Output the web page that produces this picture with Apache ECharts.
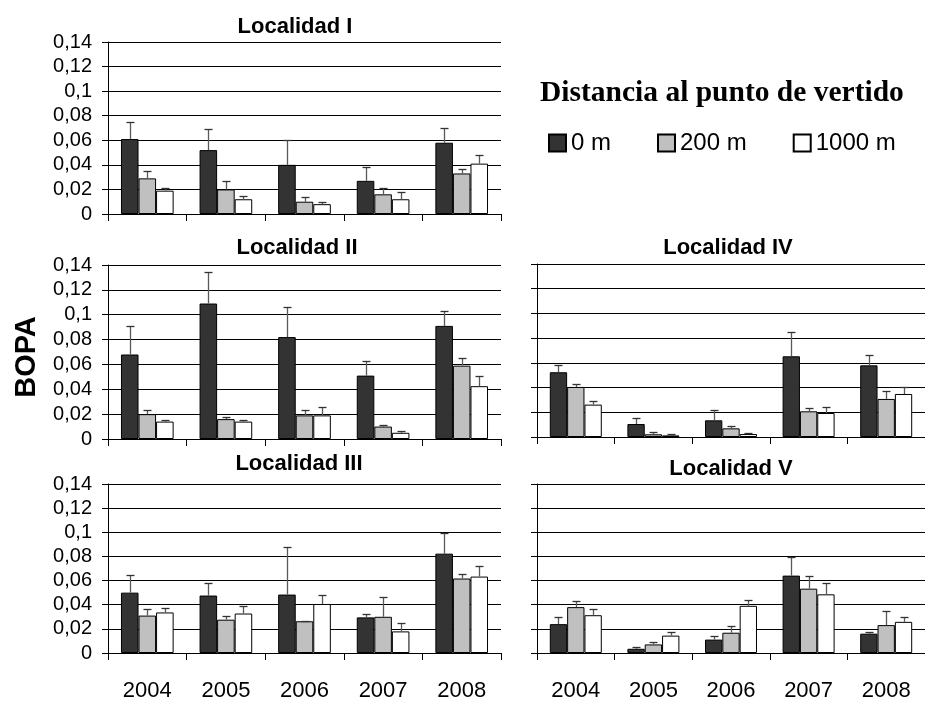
<!DOCTYPE html>
<html>
<head>
<meta charset="utf-8">
<script src="https://cdn.jsdelivr.net/npm/echarts@6/dist/echarts.min.js"></script>
<style>
  html, body { margin: 0; padding: 0; background: #fff; }
  #chart { width: 925px; height: 702px; }
</style>
</head>
<body>
<div id="chart"></div>
<script>
// Years on the category axis
const years = ['2004', '2005', '2006', '2007', '2008'];
const distances = ['0 m', '200 m', '1000 m'];
const panelTitles = ['Localidad I', 'Localidad II', 'Localidad III', 'Localidad IV', 'Localidad V'];

// Localidad I: means and standard errors (upper bar)
const locI_0m = [0.061, 0.052, 0.040, 0.027, 0.058];
const locI_200m = [0.029, 0.020, 0.010, 0.016, 0.033];
const locI_1000m = [0.019, 0.012, 0.008, 0.012, 0.041];
const locI_0m_err = [0.014, 0.017, 0.020, 0.011, 0.012];
const locI_200m_err = [0.006, 0.007, 0.0035, 0.005, 0.004];
const locI_1000m_err = [0.002, 0.003, 0.0015, 0.006, 0.007];

// Localidad II
const locII_0m = [0.068, 0.109, 0.082, 0.051, 0.091];
const locII_200m = [0.020, 0.016, 0.019, 0.010, 0.059];
const locII_1000m = [0.014, 0.014, 0.019, 0.005, 0.0425];
const locII_0m_err = [0.023, 0.025, 0.0245, 0.012, 0.012];
const locII_200m_err = [0.0035, 0.002, 0.004, 0.0016, 0.006];
const locII_1000m_err = [0.0013, 0.0013, 0.007, 0.0012, 0.008];

// Localidad III
const locIII_0m = [0.050, 0.0476, 0.0484, 0.0295, 0.0823];
const locIII_200m = [0.031, 0.0276, 0.0263, 0.030, 0.0617];
const locIII_1000m = [0.0336, 0.0327, 0.0406, 0.0179, 0.0633];
const locIII_0m_err = [0.0147, 0.0103, 0.0393, 0.0024, 0.0173];
const locIII_200m_err = [0.0053, 0.0033, 0.0005, 0.016, 0.0038];
const locIII_1000m_err = [0.0037, 0.0063, 0.0078, 0.0067, 0.0087];

// Localidad IV
const locIV_0m = [0.0524, 0.0105, 0.0135, 0.0653, 0.058];
const locIV_200m = [0.0405, 0.0022, 0.007, 0.0208, 0.0308];
const locIV_1000m = [0.0262, 0.0013, 0.0024, 0.0194, 0.0348];
const locIV_0m_err = [0.0059, 0.0046, 0.0081, 0.0197, 0.0081];
const locIV_200m_err = [0.0024, 0.0018, 0.0016, 0.003, 0.0062];
const locIV_1000m_err = [0.0029, 0.0009, 0.0008, 0.0052, 0.0057];

// Localidad V
const locV_0m = [0.0239, 0.0035, 0.0111, 0.0641, 0.016];
const locV_200m = [0.038, 0.0071, 0.0168, 0.0533, 0.0231];
const locV_1000m = [0.0313, 0.0144, 0.0391, 0.0486, 0.0258];
const locV_0m_err = [0.0063, 0.0017, 0.0033, 0.0158, 0.0017];
const locV_200m_err = [0.0049, 0.0019, 0.0055, 0.0108, 0.0114];
const locV_1000m_err = [0.0048, 0.0033, 0.0047, 0.0098, 0.0044];

const panelMeans = [
  [locI_0m, locI_200m, locI_1000m],
  [locII_0m, locII_200m, locII_1000m],
  [locIII_0m, locIII_200m, locIII_1000m],
  [locIV_0m, locIV_200m, locIV_1000m],
  [locV_0m, locV_200m, locV_1000m]
];
const panelErrs = [
  [locI_0m_err, locI_200m_err, locI_1000m_err],
  [locII_0m_err, locII_200m_err, locII_1000m_err],
  [locIII_0m_err, locIII_200m_err, locIII_1000m_err],
  [locIV_0m_err, locIV_200m_err, locIV_1000m_err],
  [locV_0m_err, locV_200m_err, locV_1000m_err]
];

const FONT = "'Liberation Sans', Arial, Helvetica, sans-serif";
const barColors = ['#333333', '#c0c0c0', '#ffffff'];
const CAT_GAP = 0.33;

// Plot rectangles (left, top, width, height) and which axes get labels
const grids = [
  { left: 108, top: 42, width: 393, height: 172, yLabels: true, xLabels: false },
  { left: 108, top: 265, width: 393, height: 174, yLabels: true, xLabels: false },
  { left: 108, top: 484, width: 393, height: 172, yLabels: true, xLabels: true },
  { left: 537, top: 264, width: 396, height: 173, yLabels: false, xLabels: false },
  { left: 537, top: 484, width: 396, height: 172, yLabels: false, xLabels: true }
];
const titlePos = [[295, 27], [297, 248], [299, 464], [728, 248], [731, 469]];

function errRenderer(pos) {
  return function (params, api) {
    const idx = api.value(0);
    const v = api.value(1);
    const up = api.value(2);
    const base = api.coord([idx, v]);
    const top = api.coord([idx, up]);
    const band = api.size([1, 0])[0];
    const barW = band * (1 - CAT_GAP) / 3;
    const cx = Math.round(base[0] + (pos - 1) * barW) + 0.5;
    const ty = Math.round(top[1]) + 0.5;
    return {
      type: 'group',
      children: [
        { type: 'line', shape: { x1: cx, y1: base[1], x2: cx, y2: ty },
          style: { stroke: '#5a5a5a', lineWidth: 1.3 } },
        { type: 'line', shape: { x1: cx - 4, y1: ty, x2: cx + 4, y2: ty },
          style: { stroke: '#333', lineWidth: 1.3 } }
      ]
    };
  };
}

const gridOpts = [], xAxes = [], yAxes = [], series = [], graphics = [];

grids.forEach((g, gi) => {
  gridOpts.push({ left: g.left, top: g.top, width: g.width, height: g.height, containLabel: false });
  xAxes.push({
    type: 'category', gridIndex: gi, data: years, boundaryGap: true,
    axisLine: { show: true, lineStyle: { color: '#000', width: 1 } },
    axisTick: { show: true, alignWithLabel: false, length: 7, lineStyle: { color: '#000' } },
    axisLabel: { show: g.xLabels, margin: 27, fontSize: 22, color: '#000', fontFamily: FONT },
    splitLine: { show: false }
  });
  yAxes.push({
    type: 'value', gridIndex: gi, min: 0, max: 0.14, interval: 0.02,
    axisLine: { show: true, lineStyle: { color: '#000', width: 1 } },
    axisTick: { show: true, length: 6, lineStyle: { color: '#000' } },
    axisLabel: {
      show: g.yLabels, margin: 16, fontSize: 20, color: '#000', fontFamily: FONT,
      formatter: v => String(+v.toFixed(2)).replace('.', ',')
    },
    splitLine: { show: true, lineStyle: { color: '#000', width: 1 } }
  });
  distances.forEach((name, si) => {
    series.push({
      type: 'bar', name: name, xAxisIndex: gi, yAxisIndex: gi,
      data: panelMeans[gi][si],
      barGap: '0%', barCategoryGap: (CAT_GAP * 100) + '%',
      itemStyle: { color: barColors[si], borderColor: '#000', borderWidth: 1 },
      emphasis: { disabled: true }
    });
  });
  distances.forEach((name, si) => {
    const m = panelMeans[gi][si], e = panelErrs[gi][si];
    series.push({
      type: 'custom', xAxisIndex: gi, yAxisIndex: gi, z: 5,
      renderItem: errRenderer(si),
      encode: { x: 0, y: [1, 2] },
      data: m.map((v, i) => [i, v, v + e[i]]),
      silent: true
    });
  });
  graphics.push({
    type: 'text', x: titlePos[gi][0], y: titlePos[gi][1],
    style: { text: panelTitles[gi], font: 'bold 22px ' + FONT, fill: '#000',
             textAlign: 'center', textVerticalAlign: 'middle' }
  });
});

// Shared y-axis name
graphics.push({
  type: 'text', x: 27, y: 357, rotation: Math.PI / 2,
  style: { text: 'BOPA', font: 'bold 29px ' + FONT, fill: '#000',
           textAlign: 'center', textVerticalAlign: 'middle' }
});
// Legend heading
graphics.push({
  type: 'text', x: 540, y: 93,
  style: { text: 'Distancia al punto de vertido',
           font: "bold 29.5px 'Liberation Serif', 'Times New Roman', serif", fill: '#000',
           textAlign: 'left', textVerticalAlign: 'middle' }
});

const chart = echarts.init(document.getElementById('chart'), null, { renderer: 'canvas' });
chart.setOption({
  backgroundColor: '#fff',
  animation: false,
  grid: gridOpts,
  xAxis: xAxes,
  yAxis: yAxes,
  legend: {
    data: distances, left: 543, top: 126, icon: 'rect',
    itemWidth: 17, itemHeight: 17, itemGap: 46,
    textStyle: { fontSize: 24, color: '#000', fontFamily: FONT },
    selectedMode: false
  },
  graphic: graphics,
  series: series
});
</script>
</body>
</html>
